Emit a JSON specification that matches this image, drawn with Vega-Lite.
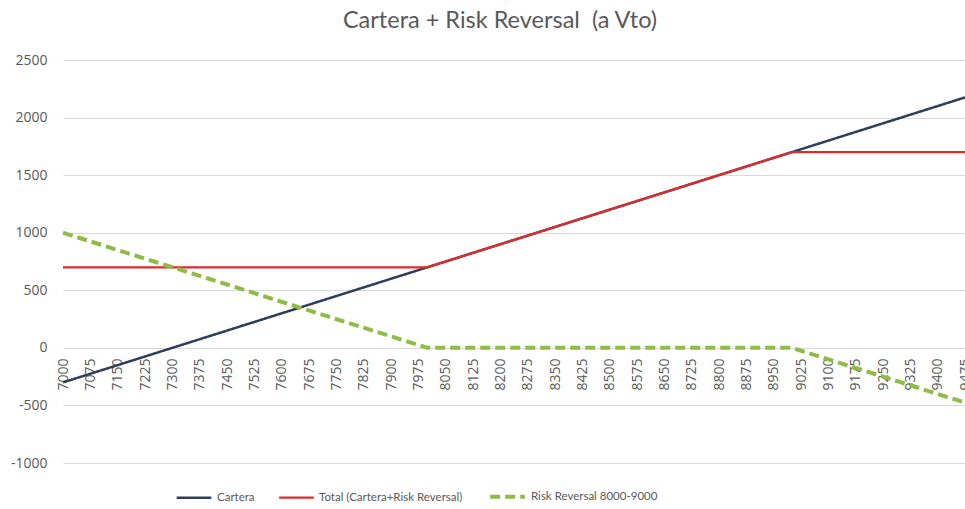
{
  "$schema": "https://vega.github.io/schema/vega-lite/v6.json",
  "autosize": {"type": "none"},
  "padding": {"left": 63, "top": 60, "right": 0, "bottom": 46},
  "width": 902,
  "height": 403,
  "background": "white",
  "config": {
    "font": "Lato",
    "view": {"stroke": null}
  },
  "title": {
    "text": "Cartera + Risk Reversal\u00a0 (a Vto)",
    "fontSize": 23.5,
    "fontWeight": "normal",
    "color": "#595959",
    "dx": -14,
    "offset": 21
  },
  "data": {
    "values": [
      {"x": 7000, "Cartera": -300, "Total": 700, "RR": 1000},
      {"x": 7025, "Cartera": -275, "Total": 700, "RR": 975},
      {"x": 7050, "Cartera": -250, "Total": 700, "RR": 950},
      {"x": 7075, "Cartera": -225, "Total": 700, "RR": 925},
      {"x": 7100, "Cartera": -200, "Total": 700, "RR": 900},
      {"x": 7125, "Cartera": -175, "Total": 700, "RR": 875},
      {"x": 7150, "Cartera": -150, "Total": 700, "RR": 850},
      {"x": 7175, "Cartera": -125, "Total": 700, "RR": 825},
      {"x": 7200, "Cartera": -100, "Total": 700, "RR": 800},
      {"x": 7225, "Cartera": -75, "Total": 700, "RR": 775},
      {"x": 7250, "Cartera": -50, "Total": 700, "RR": 750},
      {"x": 7275, "Cartera": -25, "Total": 700, "RR": 725},
      {"x": 7300, "Cartera": 0, "Total": 700, "RR": 700},
      {"x": 7325, "Cartera": 25, "Total": 700, "RR": 675},
      {"x": 7350, "Cartera": 50, "Total": 700, "RR": 650},
      {"x": 7375, "Cartera": 75, "Total": 700, "RR": 625},
      {"x": 7400, "Cartera": 100, "Total": 700, "RR": 600},
      {"x": 7425, "Cartera": 125, "Total": 700, "RR": 575},
      {"x": 7450, "Cartera": 150, "Total": 700, "RR": 550},
      {"x": 7475, "Cartera": 175, "Total": 700, "RR": 525},
      {"x": 7500, "Cartera": 200, "Total": 700, "RR": 500},
      {"x": 7525, "Cartera": 225, "Total": 700, "RR": 475},
      {"x": 7550, "Cartera": 250, "Total": 700, "RR": 450},
      {"x": 7575, "Cartera": 275, "Total": 700, "RR": 425},
      {"x": 7600, "Cartera": 300, "Total": 700, "RR": 400},
      {"x": 7625, "Cartera": 325, "Total": 700, "RR": 375},
      {"x": 7650, "Cartera": 350, "Total": 700, "RR": 350},
      {"x": 7675, "Cartera": 375, "Total": 700, "RR": 325},
      {"x": 7700, "Cartera": 400, "Total": 700, "RR": 300},
      {"x": 7725, "Cartera": 425, "Total": 700, "RR": 275},
      {"x": 7750, "Cartera": 450, "Total": 700, "RR": 250},
      {"x": 7775, "Cartera": 475, "Total": 700, "RR": 225},
      {"x": 7800, "Cartera": 500, "Total": 700, "RR": 200},
      {"x": 7825, "Cartera": 525, "Total": 700, "RR": 175},
      {"x": 7850, "Cartera": 550, "Total": 700, "RR": 150},
      {"x": 7875, "Cartera": 575, "Total": 700, "RR": 125},
      {"x": 7900, "Cartera": 600, "Total": 700, "RR": 100},
      {"x": 7925, "Cartera": 625, "Total": 700, "RR": 75},
      {"x": 7950, "Cartera": 650, "Total": 700, "RR": 50},
      {"x": 7975, "Cartera": 675, "Total": 700, "RR": 25},
      {"x": 8000, "Cartera": 700, "Total": 700, "RR": 0},
      {"x": 8025, "Cartera": 725, "Total": 725, "RR": 0},
      {"x": 8050, "Cartera": 750, "Total": 750, "RR": 0},
      {"x": 8075, "Cartera": 775, "Total": 775, "RR": 0},
      {"x": 8100, "Cartera": 800, "Total": 800, "RR": 0},
      {"x": 8125, "Cartera": 825, "Total": 825, "RR": 0},
      {"x": 8150, "Cartera": 850, "Total": 850, "RR": 0},
      {"x": 8175, "Cartera": 875, "Total": 875, "RR": 0},
      {"x": 8200, "Cartera": 900, "Total": 900, "RR": 0},
      {"x": 8225, "Cartera": 925, "Total": 925, "RR": 0},
      {"x": 8250, "Cartera": 950, "Total": 950, "RR": 0},
      {"x": 8275, "Cartera": 975, "Total": 975, "RR": 0},
      {"x": 8300, "Cartera": 1000, "Total": 1000, "RR": 0},
      {"x": 8325, "Cartera": 1025, "Total": 1025, "RR": 0},
      {"x": 8350, "Cartera": 1050, "Total": 1050, "RR": 0},
      {"x": 8375, "Cartera": 1075, "Total": 1075, "RR": 0},
      {"x": 8400, "Cartera": 1100, "Total": 1100, "RR": 0},
      {"x": 8425, "Cartera": 1125, "Total": 1125, "RR": 0},
      {"x": 8450, "Cartera": 1150, "Total": 1150, "RR": 0},
      {"x": 8475, "Cartera": 1175, "Total": 1175, "RR": 0},
      {"x": 8500, "Cartera": 1200, "Total": 1200, "RR": 0},
      {"x": 8525, "Cartera": 1225, "Total": 1225, "RR": 0},
      {"x": 8550, "Cartera": 1250, "Total": 1250, "RR": 0},
      {"x": 8575, "Cartera": 1275, "Total": 1275, "RR": 0},
      {"x": 8600, "Cartera": 1300, "Total": 1300, "RR": 0},
      {"x": 8625, "Cartera": 1325, "Total": 1325, "RR": 0},
      {"x": 8650, "Cartera": 1350, "Total": 1350, "RR": 0},
      {"x": 8675, "Cartera": 1375, "Total": 1375, "RR": 0},
      {"x": 8700, "Cartera": 1400, "Total": 1400, "RR": 0},
      {"x": 8725, "Cartera": 1425, "Total": 1425, "RR": 0},
      {"x": 8750, "Cartera": 1450, "Total": 1450, "RR": 0},
      {"x": 8775, "Cartera": 1475, "Total": 1475, "RR": 0},
      {"x": 8800, "Cartera": 1500, "Total": 1500, "RR": 0},
      {"x": 8825, "Cartera": 1525, "Total": 1525, "RR": 0},
      {"x": 8850, "Cartera": 1550, "Total": 1550, "RR": 0},
      {"x": 8875, "Cartera": 1575, "Total": 1575, "RR": 0},
      {"x": 8900, "Cartera": 1600, "Total": 1600, "RR": 0},
      {"x": 8925, "Cartera": 1625, "Total": 1625, "RR": 0},
      {"x": 8950, "Cartera": 1650, "Total": 1650, "RR": 0},
      {"x": 8975, "Cartera": 1675, "Total": 1675, "RR": 0},
      {"x": 9000, "Cartera": 1700, "Total": 1700, "RR": 0},
      {"x": 9025, "Cartera": 1725, "Total": 1700, "RR": -25},
      {"x": 9050, "Cartera": 1750, "Total": 1700, "RR": -50},
      {"x": 9075, "Cartera": 1775, "Total": 1700, "RR": -75},
      {"x": 9100, "Cartera": 1800, "Total": 1700, "RR": -100},
      {"x": 9125, "Cartera": 1825, "Total": 1700, "RR": -125},
      {"x": 9150, "Cartera": 1850, "Total": 1700, "RR": -150},
      {"x": 9175, "Cartera": 1875, "Total": 1700, "RR": -175},
      {"x": 9200, "Cartera": 1900, "Total": 1700, "RR": -200},
      {"x": 9225, "Cartera": 1925, "Total": 1700, "RR": -225},
      {"x": 9250, "Cartera": 1950, "Total": 1700, "RR": -250},
      {"x": 9275, "Cartera": 1975, "Total": 1700, "RR": -275},
      {"x": 9300, "Cartera": 2000, "Total": 1700, "RR": -300},
      {"x": 9325, "Cartera": 2025, "Total": 1700, "RR": -325},
      {"x": 9350, "Cartera": 2050, "Total": 1700, "RR": -350},
      {"x": 9375, "Cartera": 2075, "Total": 1700, "RR": -375},
      {"x": 9400, "Cartera": 2100, "Total": 1700, "RR": -400},
      {"x": 9425, "Cartera": 2125, "Total": 1700, "RR": -425},
      {"x": 9450, "Cartera": 2150, "Total": 1700, "RR": -450},
      {"x": 9475, "Cartera": 2175, "Total": 1700, "RR": -475}
    ]
  },
  "transform": [
    {"fold": ["Cartera", "Total", "RR"], "as": ["serie", "valor"]}
  ],
  "mark": {"type": "line", "strokeCap": "butt", "strokeJoin": "round"},
  "encoding": {
    "x": {
      "field": "x",
      "type": "quantitative",
      "scale": {"domain": [7000, 9475], "nice": false, "zero": false},
      "axis": {
        "title": null,
        "values": [7000, 7075, 7150, 7225, 7300, 7375, 7450, 7525, 7600, 7675, 7750, 7825, 7900, 7975, 8050, 8125, 8200, 8275, 8350, 8425, 8500, 8575, 8650, 8725, 8800, 8875, 8950, 9025, 9100, 9175, 9250, 9325, 9400, 9475],
        "format": "d",
        "labelFont": "Open Sans",
        "labelAngle": -90,
        "labelAlign": "right",
        "labelBaseline": "middle",
        "labelFontSize": 14,
        "labelColor": "#595959",
        "labelPadding": 10,
        "labelOverlap": false,
        "labelBound": false,
        "labelFlush": false,
        "ticks": false,
        "domain": false,
        "grid": false,
        "offset": -115
      }
    },
    "y": {
      "field": "valor",
      "type": "quantitative",
      "scale": {"domain": [-1000, 2500], "nice": false},
      "axis": {
        "title": null,
        "values": [-1000, -500, 0, 500, 1000, 1500, 2000, 2500],
        "labelExpr": "'' + datum.value",
        "labelFont": "Open Sans",
        "labelFontSize": 14,
        "labelColor": "#595959",
        "labelPadding": 16,
        "ticks": false,
        "domain": false,
        "gridColor": "#D9D9D9",
        "gridWidth": 1
      }
    },
    "color": {
      "field": "serie",
      "type": "nominal",
      "scale": {"domain": ["Cartera", "Total", "RR"], "range": ["#2E3D5A", "#E02B2B", "#8FBC45"]},
      "legend": {
        "title": null,
        "orient": "none",
        "direction": "horizontal",
        "legendX": 112,
        "legendY": 417,
        "symbolType": "stroke",
        "symbolSize": 1200,
        "labelFontSize": 11.5,
        "labelLimit": 400,
        "labelColor": "#595959",
        "columnPadding": 19,
        "labelOffset": 4,
        "labelExpr": "datum.value == 'Cartera' ? 'Cartera' : datum.value == 'Total' ? 'Total (Cartera+Risk Reversal)' : 'Risk Reversal 8000-9000'"
      }
    },
    "strokeDash": {
      "field": "serie",
      "type": "nominal",
      "scale": {"domain": ["Cartera", "Total", "RR"], "range": [[1, 0], [1, 0], [10, 5]]},
      "legend": null
    },
    "strokeWidth": {
      "field": "serie",
      "type": "ordinal",
      "scale": {"type": "ordinal", "domain": ["Cartera", "Total", "RR"], "range": [2.5, 2.25, 4]},
      "legend": null
    }
  }
}
